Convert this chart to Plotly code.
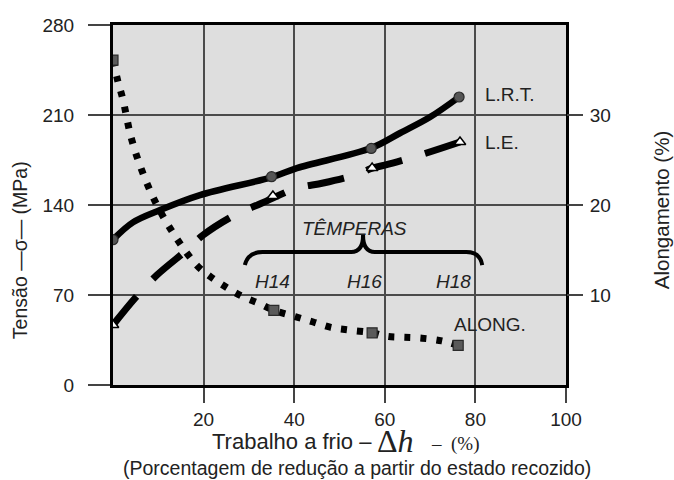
import plotly.graph_objects as go

# ---- data ----
# L.R.T. (tensile strength, MPa) smooth curve + marker points
lrt_curve_x = [0, 4.4, 10.4, 19.2, 35.1, 40.6, 57.0, 63.4, 70.0, 76.4]
lrt_curve_y = [113, 126.5, 136.1, 147.7, 161.7, 168.7, 184.3, 196.0, 208.4, 224]
lrt_pts_x = [0, 35, 57, 76.4]
lrt_pts_y = [113, 162, 184, 224]

# L.E. (yield strength, MPa)
le_curve_x = [0, 4.9, 9.7, 16.3, 19.9, 26.9, 32.9, 40.6, 46.4, 54.1, 57.2, 60.0, 67.8, 76.6]
le_curve_y = [46.7, 67.7, 85.5, 105.0, 116.6, 132.2, 141.5, 153.2, 157.1, 164.1, 168.7, 171.0, 178.9, 189]
le_pts_x = [0, 35.3, 57.2, 76.6]
le_pts_y = [46.7, 147, 168.7, 189]

# ALONG. (elongation, %)
al_curve_x = [0, 1.1, 2.2, 4.0, 6.4, 9.7, 13.9, 18.5, 21.6, 25.2, 28.7, 32.5, 35.5, 40.2, 44.2,
              48.1, 52.1, 57.2, 60.5, 64.0, 68.2, 72.6, 76.2]
al_curve_y = [36.1, 33.7, 31.7, 27.5, 23.8, 20.0, 16.4, 13.3, 12.0, 10.8, 9.8, 9.0, 8.3, 7.6, 7.0,
              6.4, 6.1, 5.8, 5.4, 5.3, 5.2, 4.9, 4.4]
al_pts_x = [0, 35.5, 57.2, 76.2]
al_pts_y = [36.1, 8.3, 5.8, 4.4]

x_ticks = [20, 40, 60, 80, 100]
y_ticks = [0, 70, 140, 210, 280]
y2_ticks = [10, 20, 30]
temper_labels = ["H14", "H16", "H18"]
temper_x = [35.1, 55.6, 75.1]

FONT = "Liberation Sans, Arial, sans-serif"
SERIF = "Liberation Serif, Times New Roman, serif"
TXT = "#222222"
NB = "\u00a0"

fig = go.Figure()

fig.add_trace(go.Scatter(x=al_curve_x, y=al_curve_y, yaxis="y2", mode="lines",
                         line=dict(color="black", width=7, dash="6px,10px", shape="spline"),
                         hoverinfo="skip"))
fig.add_trace(go.Scatter(x=le_curve_x, y=le_curve_y, mode="lines",
                         line=dict(color="black", width=7, dash="37px,24px", shape="spline"),
                         hoverinfo="skip"))
fig.add_trace(go.Scatter(x=lrt_curve_x, y=lrt_curve_y, mode="lines",
                         line=dict(color="black", width=6.5, shape="spline"),
                         hoverinfo="skip"))

fig.add_trace(go.Scatter(x=al_pts_x, y=al_pts_y, yaxis="y2", mode="markers",
                         marker=dict(symbol="square", size=10, color="#5a5a5a",
                                     line=dict(color="#2a2a2a", width=1.2))))
fig.add_trace(go.Scatter(x=le_pts_x, y=le_pts_y, mode="markers",
                         marker=dict(symbol="triangle-up", size=10, color="white",
                                     line=dict(color="black", width=1.5))))
fig.add_trace(go.Scatter(x=lrt_pts_x, y=lrt_pts_y, mode="markers",
                         marker=dict(symbol="circle", size=10, color="#555555",
                                     line=dict(color="#2a2a2a", width=1.2))))

# brace for TÊMPERAS
fig.add_shape(type="path",
              path="M 29.1,93.3 Q 29.8,103.4 33.0,103.4 L 52.6,103.4 Q 55.2,103.4 55.2,116.6 "
                   "Q 55.2,103.4 57.8,103.4 L 78.0,103.4 Q 81.0,103.4 81.5,93.3",
              line=dict(color="black", width=4), xref="x", yref="y")

ann = []
ann.append(dict(x=81.7, y=226, text="L.R.T.", xanchor="left"))
ann.append(dict(x=81.7, y=189, text="L.E.", xanchor="left"))
ann.append(dict(x=83.2, y=46.7, text="ALONG.", xanchor="center"))
ann.append(dict(x=53.4, y=122, text="<i>TÊMPERAS</i>", xanchor="center"))
for lab, xx in zip(temper_labels, temper_x):
    ann.append(dict(x=xx, y=80.5, text="<i>" + lab + "</i>", xanchor="center"))
for a in ann:
    fig.add_annotation(xref="x", yref="y", showarrow=False, yanchor="middle",
                       font=dict(family=FONT, size=19, color=TXT), **a)

# x-axis title, built from three pieces (sans text, large serif Δh, small serif "– (%)")
fig.add_annotation(xref="paper", yref="paper", x=0.214, y=-0.158, showarrow=False,
                   yanchor="middle", xanchor="left", text="Trabalho a frio –",
                   font=dict(family=FONT, size=22, color=TXT))
fig.add_annotation(xref="paper", yref="paper", x=0.578, y=-0.155, showarrow=False,
                   yanchor="middle", xanchor="left", text="Δ<i>h</i>",
                   font=dict(family=SERIF, size=32, color=TXT))
fig.add_annotation(xref="paper", yref="paper", x=0.697, y=-0.165, showarrow=False,
                   yanchor="middle", xanchor="left", text="–" + NB + NB + "(%)",
                   font=dict(family=SERIF, size=19, color=TXT))
fig.add_annotation(xref="paper", yref="paper", x=0.539, y=-0.231, showarrow=False,
                   yanchor="middle", xanchor="center",
                   text="(Porcentagem de redução a partir do estado recozido)",
                   font=dict(family=FONT, size=19.5, color=TXT))
fig.add_annotation(xref="paper", yref="paper", x=-0.205, y=0.375, showarrow=False,
                   yanchor="middle", xanchor="center", textangle=-90,
                   text="Tensão —σ— (MPa)", font=dict(family=FONT, size=19.5, color=TXT))
fig.add_annotation(xref="paper", yref="paper", x=1.21, y=0.486, showarrow=False,
                   yanchor="middle", xanchor="center", textangle=-90,
                   text="Alongamento (%)", font=dict(family=FONT, size=20.5, color=TXT))

fig.update_layout(
    width=674, height=480,
    margin=dict(l=113, r=108, t=25, b=95),
    paper_bgcolor="white", plot_bgcolor="#dedede",
    showlegend=False,
    font=dict(family=FONT, size=19, color=TXT),
    xaxis=dict(range=[0, 100], tickvals=x_ticks, showgrid=True, gridcolor="#4a4a4a", gridwidth=1.5,
               zeroline=False, showline=True, linecolor="black", linewidth=3, mirror=True,
               ticks="outside", ticklen=15, tickwidth=1.5, tickcolor="#444444",
               tickfont=dict(size=19, color=TXT)),
    yaxis=dict(range=[0, 280], tickvals=y_ticks, showgrid=True, gridcolor="#4a4a4a", gridwidth=1.5,
               zeroline=False, showline=True, linecolor="black", linewidth=3, mirror=True,
               ticks="outside", ticklen=22, tickwidth=1.5, tickcolor="#444444",
               ticklabelstandoff=10, tickfont=dict(size=19, color=TXT)),
    yaxis2=dict(range=[0, 40], tickvals=y2_ticks, overlaying="y", side="right", showgrid=False,
                zeroline=False, showline=False,
                ticks="outside", ticklen=16, tickwidth=1.5, tickcolor="#444444",
                ticklabelstandoff=3, tickfont=dict(size=19, color=TXT)),
)

fig.write_html("out.html")
